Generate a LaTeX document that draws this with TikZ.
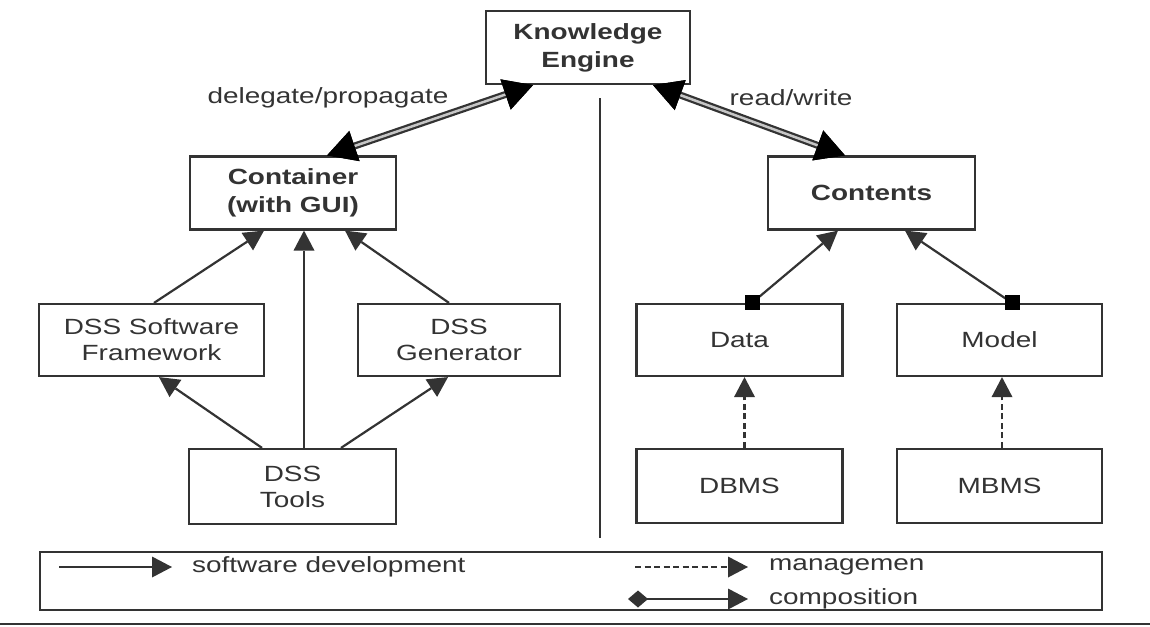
\documentclass[tikz,border=0pt]{standalone}
\usepackage{fontspec}
\setmainfont{Liberation Sans}[FakeStretch=1.27]
\usetikzlibrary{arrows.meta,calc}
\definecolor{ink}{HTML}{333333}
\begin{document}
\begin{tikzpicture}[x=1pt,y=-1pt,
  box/.style={draw=ink, line width=2.2pt, fill=white, inner sep=0pt,
    align=center, text=ink, font=\fontsize{22}{26}\selectfont,
    minimum width=206pt, minimum height=73pt},
  boldbox/.style={box, font=\fontsize{22}{28}\selectfont\bfseries},
  lbl/.style={text=ink, font=\fontsize{22}{26}\selectfont, inner sep=0pt},
  partmark/.style={fill=black, minimum size=15pt, inner sep=0pt},
  tri/.tip={Triangle[length=20pt,width=21pt,line width=0pt]},
  bigtri/.tip={Triangle[length=29pt,width=32pt,line width=0pt,color=black]},
  dev/.style={draw=ink, line width=2.2pt, -tri},
  mgmt/.style={dev, dash pattern=on 6pt off 3.5pt},
  legcomp/.style={draw=ink, line width=2.2pt, {Diamond[length=20pt,width=17pt,line width=0pt]}-tri},
  dbl/.style={draw=gray!45, line width=2.5pt, preaction={draw=ink, line width=7pt},
    bigtri-bigtri},
]
\useasboundingbox (0,0) rectangle (1150,626);

% boxes
\node[boldbox, minimum width=204pt] (ke) at (588,47.5) {Knowledge\\Engine};
\node[boldbox] (cont) at (293,193) {Container\\(with GUI)};
\node[boldbox, minimum width=207pt] (contents) at (871.5,193) {Contents};
\node[box, minimum width=225pt, minimum height=72pt] (fw) at (151.5,340) {DSS Software\\Framework};
\node[box, minimum width=202pt, minimum height=72pt] (gen) at (459,340) {DSS\\Generator};
\node[box, minimum width=207pt, minimum height=75pt] (tools) at (292.5,486.5) {DSS\\Tools};
\node[box, minimum height=72pt] (data) at (739.5,340) {Data};
\node[box, minimum width=205pt, minimum height=72pt] (model) at (999.5,340) {Model};
\node[box, minimum height=74pt] (dbms) at (739.5,486) {DBMS};
\node[box, minimum width=205pt, minimum height=74pt] (mbms) at (999.5,486) {MBMS};

% divider between the two halves
\coordinate (divtop) at (600,98);
\coordinate (divbot) at (600,538);
\draw[ink, line width=2.2pt] (divtop) -- (divbot);

% knowledge engine links
\draw[dbl] ([xshift=34pt]cont.north) -- ([xshift=-55pt]ke.south);
\draw[dbl] ([xshift=65pt]ke.south) -- ([xshift=-26.5pt]contents.north);
\node[lbl] (lblleft) at (328,98) {delegate/propagate};
\node[lbl] (lblright) at (791,98) {read/write};

% software development
\draw[dev] ([xshift=2.5pt]fw.north) -- ([xshift=-29pt]cont.south);
\draw[dev] ([xshift=11.5pt]tools.north) -- ([xshift=11pt]cont.south);
\draw[dev] ([xshift=-10pt]gen.north) -- ([xshift=52pt]cont.south);
\draw[dev] ([xshift=-30.5pt]tools.north) -- ([xshift=7.5pt]fw.south);
\draw[dev] ([xshift=48.5pt]tools.north) -- ([xshift=-11pt]gen.south);

% composition: part markers sit on the top edge of the parts
\draw[dev] ([xshift=12.5pt]data.north) -- ([xshift=-33.5pt]contents.south);
\draw[dev] ([xshift=12.5pt]model.north) -- ([xshift=33.5pt]contents.south);
\node[partmark] (dmark) at ([xshift=12.5pt]data.north) {};
\node[partmark] (mmark) at ([xshift=12.5pt]model.north) {};

% management
\draw[mgmt] ([xshift=5pt]dbms.north) -- ([xshift=5pt]data.south);
\draw[mgmt] ([xshift=2.5pt]mbms.north) -- ([xshift=2.5pt]model.south);

% legend
\node[draw=ink, line width=2.2pt, minimum width=1062pt, minimum height=58pt, inner sep=0pt] (legend) at (571,581) {};
\coordinate (l1a) at (59,567);  \coordinate (l1b) at (172,567);
\coordinate (l2a) at (635,567); \coordinate (l2b) at (748,567);
\coordinate (l3a) at (628,599); \coordinate (l3b) at (748,599);
\draw[dev] (l1a) -- (l1b);
\draw[mgmt] (l2a) -- (l2b);
\draw[legcomp] (l3a) -- (l3b);
\node[lbl, anchor=west] (t1) at (192,567) {software development};
\node[lbl, anchor=west] (t2) at (769,567) {managemen};
\node[lbl, anchor=west] (t3) at (769,599) {composition};

% rule under the figure
\coordinate (rulea) at (0,624);
\coordinate (ruleb) at (1150,624);
\draw[ink, line width=2.5pt] (rulea) -- (ruleb);
\end{tikzpicture}
\end{document}
